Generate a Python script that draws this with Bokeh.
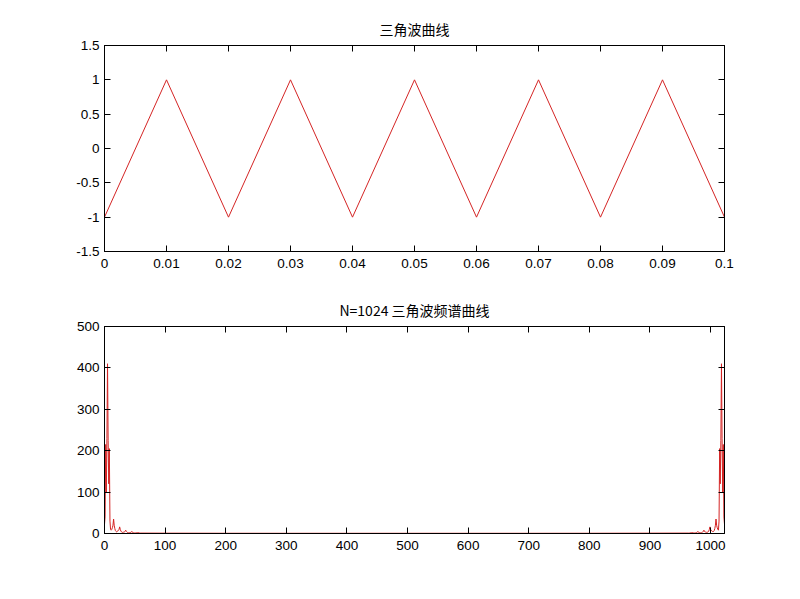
from bokeh.plotting import figure
from bokeh.layouts import column
from bokeh.models import LinearAxis, FixedTicker, Range1d
from bokeh.embed import file_html
from bokeh.resources import INLINE

# ---- data: triangle wave (vertices) ----
tri_t = [0.0, 0.01, 0.02, 0.03, 0.04, 0.05, 0.06, 0.07, 0.08, 0.09, 0.1]
tri_y = [-1, 1, -1, 1, -1, 1, -1, 1, -1, 1, -1]

# ---- data: spectrum magnitude ----
head_bins = list(range(0, 61))
head_vals = [22, 40, 215, 100, 230, 410, 225, 120, 205, 30,
             10, 8, 10, 14, 20, 35, 20, 12, 7, 5,
             4, 5, 6, 8, 10, 16, 10, 6, 4, 3,
             2.5, 3, 3.5, 4, 5, 8, 5, 3.5, 2.5, 2,
             1.8, 2, 2.2, 2.5, 3, 5, 3, 2.2, 1.8, 1.5,
             1.3, 1.4, 1.5, 1.8, 2, 3.5, 2, 1.6, 1.3, 1.1,
             1.0]
mid_bins = [100, 200, 300, 400, 500, 600, 700, 800, 900]
mid_vals = [0.8, 0.6, 0.5, 0.5, 0.5, 0.5, 0.5, 0.6, 0.8]
tail_bins = list(range(964, 1024))
tail_vals = [1.0, 1.1, 1.3, 1.6, 2, 3.5, 2, 1.8, 1.5, 1.4,
             1.3, 1.5, 1.8, 2.2, 3, 5, 3, 2.5, 2.2, 2,
             1.8, 2, 2.5, 3.5, 5, 8, 5, 4, 3.5, 3,
             2.5, 3, 4, 6, 10, 16, 10, 8, 6, 5,
             4, 5, 7, 12, 20, 35, 20, 14, 10, 8,
             30, 205, 120, 225, 410, 230, 100, 215, 40, 22]

spec_x = head_bins + mid_bins + tail_bins
spec_y = head_vals + mid_vals + tail_vals

# ---- tick labels ----
top_xticks = [0, 0.01, 0.02, 0.03, 0.04, 0.05, 0.06, 0.07, 0.08, 0.09, 0.1]
top_xlabels = ["0", "0.01", "0.02", "0.03", "0.04", "0.05", "0.06", "0.07", "0.08", "0.09", "0.1"]
top_yticks = [-1.5, -1, -0.5, 0, 0.5, 1, 1.5]
top_ylabels = ["-1.5", "-1", "-0.5", "0", "0.5", "1", "1.5"]
bot_xticks = [0, 100, 200, 300, 400, 500, 600, 700, 800, 900, 1000]
bot_xlabels = [str(v) for v in bot_xticks]
bot_yticks = [0, 100, 200, 300, 400, 500]
bot_ylabels = [str(v) for v in bot_yticks]

FONT = "Liberation Sans"
CJK = "Noto Sans CJK SC"
RED = "#d42424"


def style(p, xt, xl, yt, yl):
    p.outline_line_color = "black"
    p.outline_line_width = 1
    p.xgrid.visible = False
    p.ygrid.visible = False
    p.background_fill_color = "white"
    p.border_fill_color = "white"
    for ax, ticks, labels in ((p.xaxis[0], xt, xl), (p.yaxis[0], yt, yl)):
        ax.ticker = FixedTicker(ticks=ticks)
        ax.major_label_overrides = {t: l for t, l in zip(ticks, labels)}
        ax.major_tick_in = 6
        ax.major_tick_out = 0
        ax.minor_tick_line_color = None
        ax.axis_line_color = "black"
        ax.major_tick_line_color = "black"
        ax.major_label_text_font = FONT
        ax.major_label_text_font_size = "13.5px"
        ax.major_label_text_color = "black"
    p.xaxis[0].major_label_standoff = 7
    p.yaxis[0].major_label_standoff = 5
    top = LinearAxis(ticker=FixedTicker(ticks=xt), major_tick_in=6, major_tick_out=0,
                     minor_tick_line_color=None,
                     major_label_overrides={t: "" for t in xt},
                     major_label_standoff=0, axis_line_color="black")
    right = LinearAxis(ticker=FixedTicker(ticks=yt), major_tick_in=6, major_tick_out=0,
                       minor_tick_line_color=None,
                       major_label_overrides={t: "" for t in yt},
                       major_label_standoff=0, axis_line_color="black")
    p.add_layout(top, "above")
    p.add_layout(right, "right")
    p.title.text_font = CJK
    p.title.text_font_size = "14px"
    p.title.text_font_style = "normal"
    p.title.align = "center"
    p.title.text_color = "black"
    p.title.standoff = 14


p1 = figure(width=784, height=290, output_backend="svg", toolbar_location=None,
            x_range=Range1d(0, 0.1), y_range=Range1d(-1.5, 1.5),
            title="三角波曲线",
            min_border_left=104, min_border_right=60, min_border_top=45, min_border_bottom=39)
p1.line(tri_t, tri_y, line_color=RED, line_width=1)
style(p1, top_xticks, top_xlabels, top_yticks, top_ylabels)

p2 = figure(width=784, height=290, output_backend="svg", toolbar_location=None,
            x_range=Range1d(0, 1023), y_range=Range1d(0, 500),
            title="N=1024 三角波频谱曲线",
            min_border_left=104, min_border_right=60, min_border_top=36, min_border_bottom=47)
p2.line(spec_x, spec_y, line_color=RED, line_width=1)
style(p2, bot_xticks, bot_xlabels, bot_yticks, bot_ylabels)

layout = column(p1, p2)
open("out.html", "w").write(file_html(layout, INLINE))
